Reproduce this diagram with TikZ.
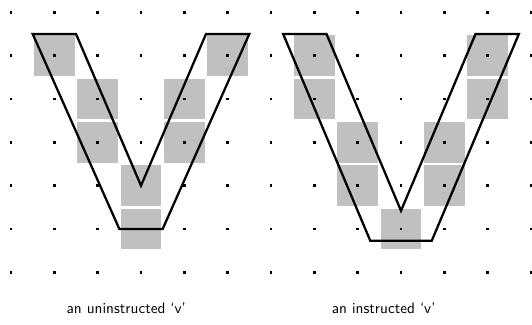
\documentclass[tikz,border=0pt]{standalone}
\begin{document}
\begin{tikzpicture}[x=1cm,y=1cm,
  cell/.style={fill={rgb,255:red,192;green,192;blue,192}},
  gridpt/.style={fill=black},
  outline/.style={draw=black,line width=1.5pt,line join=miter},
  caption/.style={font=\sffamily,anchor=base,inner sep=0pt}]
\useasboundingbox (-0.254,0.284) rectangle (12.023,-7.216);

% shaded pixel cells, left letter
\foreach \c/\r in {1/1,2/2,2/3,3/4,3/5,4/2,4/3,5/1}
  \fill[cell] (\c-0.47,-\r+0.47) rectangle (\c+0.47,-\r-0.47);
% shaded pixel cells, right letter
\foreach \c/\r in {7/1,7/2,8/3,8/4,9/5,10/3,10/4,11/1,11/2}
  \fill[cell] (\c-0.47,-\r+0.47) rectangle (\c+0.47,-\r-0.47);

% dot grid
\foreach \i in {0,...,12}
  \foreach \j in {0,...,6}
    \fill[gridpt] (\i-0.033,-\j-0.033) rectangle (\i+0.033,-\j+0.033);

% letter outlines
\draw[outline] (0.5,-0.5) -- (1.5,-0.5) -- (3,-4) -- (4.5,-0.5) -- (5.5,-0.5)
  -- (3.5,-5) -- (2.5,-5) -- cycle;
\draw[outline] (6.28,-0.5) -- (7.28,-0.5) -- (9,-4.58) -- (10.72,-0.5) -- (11.72,-0.5)
  -- (9.71,-5.27) -- (8.29,-5.27) -- cycle;

% captions
\node[caption] (capL) at (2.66,-6.94) {an uninstructed `v'};
\node[caption] (capR) at (8.6,-6.94) {an instructed `v'};
\end{tikzpicture}
\end{document}
